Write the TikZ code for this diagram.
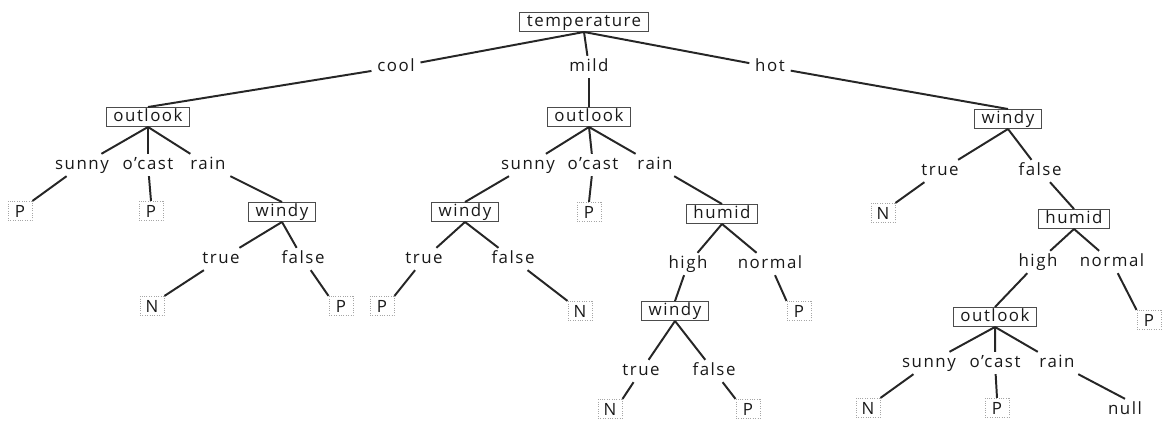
\documentclass[tikz,border=0pt]{standalone}
\usepackage{fontspec}
\setmainfont{Open Sans}[LetterSpace=9]
\begin{document}
\begin{tikzpicture}[x=0.025cm,y=-0.025cm,
    every node/.style={font=\fontsize{12}{14}\selectfont,text=black!90},
    attr/.style={draw=black!70,line width=0.7pt,inner xsep=5pt,inner ysep=1pt,text height=9pt,text depth=2.5pt},
    leaf/.style={draw=black!35,densely dotted,line width=0.7pt,minimum width=0.6cm,minimum height=0.48cm,inner sep=0pt,text height=8.6pt,text depth=0pt},
    lbl/.style={inner xsep=4pt,inner ysep=2pt,text height=9pt,text depth=2.5pt},
    edge/.style={line width=1.4pt,black!85}]
    \useasboundingbox (0,0) rectangle (1162,421);
    \node[attr] (temp) at (584,22) {temperature};
    \node[lbl] (cool) at (396,67) {cool};
    \node[lbl] (mild) at (589,67) {mild};
    \node[lbl] (hot) at (770,67) {hot};
    \node[attr] (Lout) at (148,117) {outlook};
    \node[attr] (Mout) at (589,117) {outlook};
    \node[attr] (Rwin) at (1008,119) {windy};
    \node[lbl] (Lsun) at (82,165) {sunny};
    \node[lbl] (Locast) at (148,165) {o'cast};
    \node[lbl] (Lrain) at (208,165) {rain};
    \node[lbl] (Msun) at (528,165) {sunny};
    \node[lbl] (Mocast) at (593,165) {o'cast};
    \node[lbl] (Mrain) at (655,165) {rain};
    \node[lbl] (Rtrue) at (940,171) {true};
    \node[lbl] (Rfalse) at (1040,171) {false};
    \node[leaf] (P1) at (20,211) {P};
    \node[leaf] (P2) at (151,211) {P};
    \node[attr] (Lwin) at (282,212) {windy};
    \node[attr] (Mwin) at (465,212) {windy};
    \node[leaf] (P3) at (589,212) {P};
    \node[attr] (Mhum) at (722,214) {humid};
    \node[leaf] (N1) at (883,213) {N};
    \node[attr] (Rhum) at (1074,219) {humid};
    \node[lbl] (Ltrue) at (221,259) {true};
    \node[lbl] (Lfalse) at (303,259) {false};
    \node[lbl] (Mtrue) at (424,259) {true};
    \node[lbl] (Mfalse) at (513,259) {false};
    \node[lbl] (Mhigh) at (688,264) {high};
    \node[lbl] (Mnormal) at (770,264) {normal};
    \node[lbl] (Rhigh) at (1038,262) {high};
    \node[lbl] (Rnormal) at (1112,262) {normal};
    \node[leaf] (N2) at (152,306) {N};
    \node[leaf] (P4) at (341,306) {P};
    \node[leaf] (P5) at (382,306) {P};
    \node[leaf] (N3) at (580,311) {N};
    \node[attr] (Mwin2) at (675,311) {windy};
    \node[leaf] (P6) at (799,311) {P};
    \node[attr] (Rout) at (995,317) {outlook};
    \node[leaf] (P7) at (1149,320) {P};
    \node[lbl] (Mtrue2) at (641,371) {true};
    \node[lbl] (Mfalse2) at (714,371) {false};
    \node[lbl] (Rsun) at (929,363) {sunny};
    \node[lbl] (Rocast) at (995,363) {o'cast};
    \node[lbl] (Rrain) at (1057,363) {rain};
    \node[leaf] (N4) at (610,409) {N};
    \node[leaf] (P8) at (748,409) {P};
    \node[leaf] (N5) at (868,408) {N};
    \node[leaf] (P9) at (997,408) {P};
    \node[lbl] (null) at (1125,410) {null};
    \draw[edge] (temp.south) -- (cool) -- (Lout.north);
    \draw[edge] (temp.south) -- (mild) -- (Mout.north);
    \draw[edge] (temp.south) -- (hot) -- (Rwin.north);
    \draw[edge] (Lout.south) -- (Lsun) -- (P1.north east);
    \draw[edge] (Lout.south) -- (Locast) -- (P2.north);
    \draw[edge] (Lout.south) -- (Lrain) -- (Lwin.north);
    \draw[edge] (Lwin.south) -- (Ltrue) -- (N2.north east);
    \draw[edge] (Lwin.south) -- (Lfalse) -- (P4.north west);
    \draw[edge] (Mout.south) -- (Msun) -- (Mwin.north);
    \draw[edge] (Mout.south) -- (Mocast) -- (P3.north);
    \draw[edge] (Mout.south) -- (Mrain) -- (Mhum.north);
    \draw[edge] (Mwin.south) -- (Mtrue) -- (P5.north east);
    \draw[edge] (Mwin.south) -- (Mfalse) -- (N3.north west);
    \draw[edge] (Mhum.south) -- (Mhigh) -- (Mwin2.north);
    \draw[edge] (Mhum.south) -- (Mnormal) -- (P6.north west);
    \draw[edge] (Mwin2.south) -- (Mtrue2) -- (N4.north east);
    \draw[edge] (Mwin2.south) -- (Mfalse2) -- (P8.north west);
    \draw[edge] (Rwin.south) -- (Rtrue) -- (N1.north east);
    \draw[edge] (Rwin.south) -- (Rfalse) -- (Rhum.north);
    \draw[edge] (Rhum.south) -- (Rhigh) -- (Rout.north);
    \draw[edge] (Rhum.south) -- (Rnormal) -- (P7.north west);
    \draw[edge] (Rout.south) -- (Rsun) -- (N5.north east);
    \draw[edge] (Rout.south) -- (Rocast) -- (P9.north);
    \draw[edge] (Rout.south) -- (Rrain) -- (null.north);
\end{tikzpicture}
\end{document}
